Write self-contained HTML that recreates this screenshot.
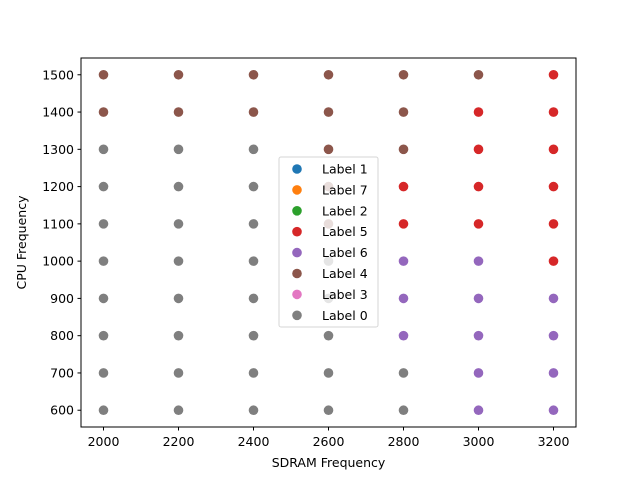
<!DOCTYPE html>
<html><head><meta charset="utf-8"><style>
body{margin:0;background:#fff;font-family:"Liberation Sans","DejaVu Sans",sans-serif}
</style></head><body>
<svg id="chart" width="640" height="480" xmlns="http://www.w3.org/2000/svg" font-family="DejaVu Sans, Liberation Sans, sans-serif"></svg>
<script>
const sdramValues=[2000,2200,2400,2600,2800,3000,3200];
const cpuValues=[600,700,800,900,1000,1100,1200,1300,1400,1500];
const xTicks=[2000,2200,2400,2600,2800,3000,3200];
const yTicks=[600,700,800,900,1000,1100,1200,1300,1400,1500];
const legendLabels=["Label 1","Label 7","Label 2","Label 5","Label 6","Label 4","Label 3","Label 0"];
const legendColors=["#1f77b4","#ff7f0e","#2ca02c","#d62728","#9467bd","#8c564b","#e377c2","#7f7f7f"];
// visible label per column (sdram) from cpu 600 -> 1500
const col2000=["Label 0","Label 0","Label 0","Label 0","Label 0","Label 0","Label 0","Label 0","Label 4","Label 4"];
const col2200=["Label 0","Label 0","Label 0","Label 0","Label 0","Label 0","Label 0","Label 0","Label 4","Label 4"];
const col2400=["Label 0","Label 0","Label 0","Label 0","Label 0","Label 0","Label 0","Label 0","Label 4","Label 4"];
const col2600=["Label 0","Label 0","Label 0","Label 0","Label 0","Label 4","Label 4","Label 4","Label 4","Label 4"];
const col2800=["Label 0","Label 0","Label 6","Label 6","Label 6","Label 5","Label 5","Label 4","Label 4","Label 4"];
const col3000=["Label 6","Label 6","Label 6","Label 6","Label 6","Label 5","Label 5","Label 5","Label 5","Label 4"];
const col3200=["Label 6","Label 6","Label 6","Label 6","Label 5","Label 5","Label 5","Label 5","Label 5","Label 5"];
const columns=[col2000,col2200,col2400,col2600,col2800,col3000,col3200];

const svg=document.getElementById('chart');
const NS="http://www.w3.org/2000/svg";
const L=81,R=576,T=58,B=427;
const xMin=1940,xMax=3260,yMin=555,yMax=1545;
const X=v=>L+(v-xMin)/(xMax-xMin)*(R-L);
const Y=v=>B-(v-yMin)/(yMax-yMin)*(B-T);
function mk(tag,attrs,parent){const e=document.createElementNS(NS,tag);for(const k in attrs)e.setAttribute(k,attrs[k]);(parent||svg).appendChild(e);return e;}

const pts=mk('g',{});


columns.forEach((col,i)=>{col.forEach((lab,j)=>{
  const c=mk('circle',{cx:X(sdramValues[i]),cy:Y(cpuValues[j]),r:4.8,fill:legendColors[legendLabels.indexOf(lab)]},pts);
  
  
});});

const frame=mk('rect',{x:L,y:T,width:R-L,height:B-T,fill:'none',stroke:'#000','stroke-width':1});



xTicks.forEach(t=>{
  const g=mk('g',{});
  
  
  mk('line',{x1:X(t),x2:X(t),y1:B,y2:B+3.5,stroke:'#000'},g);
  const tx=mk('text',{x:X(t),y:B+19,'text-anchor':'middle','font-size':12.5},g);tx.textContent=t;
});
yTicks.forEach(t=>{
  const g=mk('g',{});
  
  
  mk('line',{x1:L-3.5,x2:L,y1:Y(t),y2:Y(t),stroke:'#000'},g);
  const tx=mk('text',{x:L-7,y:Y(t)+4.5,'text-anchor':'end','font-size':12.5},g);tx.textContent=t;
});
const xt=mk('text',{x:(L+R)/2,y:467,'text-anchor':'middle','font-size':12.5});xt.textContent='SDRAM Frequency';


const yt=mk('text',{x:0,y:0,'text-anchor':'middle','font-size':12.5,transform:`translate(26,${(T+B)/2}) rotate(-90)`});yt.textContent='CPU Frequency';



const lg=mk('g',{});


mk('rect',{x:279,y:157,width:99,height:170,rx:2,fill:'#fff','fill-opacity':0.8,stroke:'#ccc','stroke-opacity':0.8},lg);
legendLabels.forEach((lab,i)=>{
  const g=mk('g',{},lg);
  
  
  const y=169+i*20.9;
  mk('circle',{cx:297,cy:y,r:4.8,fill:legendColors[i]},g);
  const t=mk('text',{x:322,y:y+4.5,'font-size':12.5},g);t.textContent=lab;
});
</script>
</body></html>
